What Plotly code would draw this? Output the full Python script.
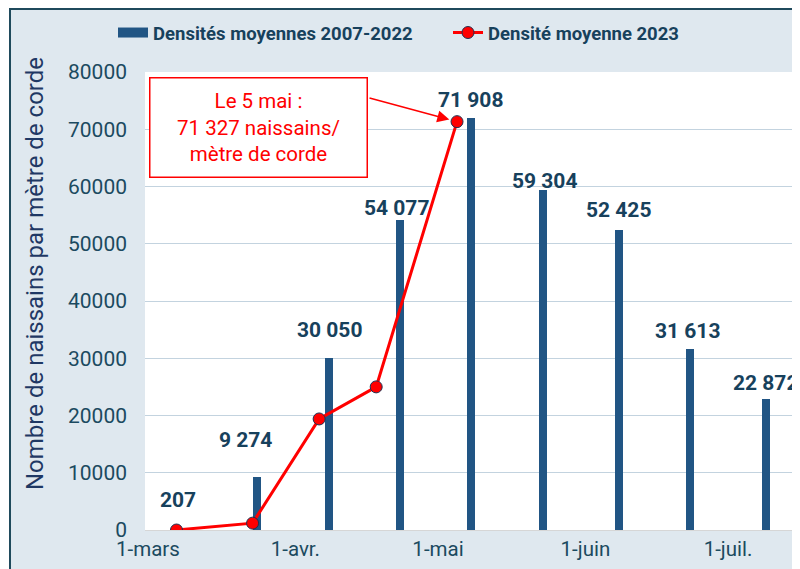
import plotly.graph_objects as go

# ---------------- data ----------------
bar_dates = ["2023-03-09", "2023-03-24", "2023-04-08", "2023-04-23", "2023-05-08",
             "2023-05-23", "2023-06-08", "2023-06-23", "2023-07-09"]
bar_values = [207, 9274, 30050, 54077, 71908, 59304, 52425, 31613, 22872]
bar_labels = ["207", "9 274", "30 050", "54 077", "71 908", "59 304", "52 425", "31 613", "22 872"]

line_dates = ["2023-03-07", "2023-03-23", "2023-04-06", "2023-04-18", "2023-05-05"]
line_values = [0, 1200, 19400, 25000, 71327]

tick_dates = ["2023-03-01", "2023-04-01", "2023-05-01", "2023-06-01", "2023-07-01"]
tick_labels = ["1-mars", "1-avr.", "1-mai", "1-juin", "1-juil."]

series_bar = "Densités moyennes 2007-2022"
series_line = "Densité moyenne 2023"
y_title = "Nombre de naissains par mètre de corde"
callout = "Le 5 mai :<br>71 327 naissains/<br>mètre de corde"

# label offsets (px) – layout only
label_dx = [-8, -12, 1, -3, -1, 2, 0, -3, -1]
label_dy = [29, 37, 28, 12, 18, 9, 20, 18, 16]

# ---------------- styles ----------------
FONT = "Roboto"
BAR_C = "#215584"
TXT_C = "#17415c"
BG = "#dfe8ef"

OFF = 8  # default body margin of the html page
W, H = 800 - OFF, 569 - OFF
# plot area in page pixels: left 145, top 72, right 796, bottom 530
L, T = 145 - OFF, 72 - OFF
R, B = W - (796 - OFF), H - (530 - OFF)
PW, PH = W - L - R, H - T - B


def px_x(p):  # page px -> paper
    return (p - OFF - L) / PW


def px_y(p):
    return (H - B - (p - OFF)) / PH


fig = go.Figure()
fig.add_trace(go.Bar(
    x=bar_dates, y=bar_values, name=series_bar, showlegend=False,
    marker=dict(color=BAR_C, line=dict(width=0)),
    width=1.7 * 86400000,
))
# legend proxy giving the wide rectangular swatch of the bar series
fig.add_trace(go.Scatter(
    x=[None], y=[None], name=series_bar, mode="lines",
    line=dict(color=BAR_C, width=10), hoverinfo="skip",
))
fig.add_trace(go.Scatter(
    x=line_dates, y=line_values, name=series_line, mode="lines+markers",
    line=dict(color="#ff0000", width=3),
    marker=dict(color="#ff0000", size=12, line=dict(color="#1f3050", width=1)),
))

annotations = []
for d, v, lab, dx, dy in zip(bar_dates, bar_values, bar_labels, label_dx, label_dy):
    annotations.append(dict(
        x=d, y=v, xref="x", yref="y", text="<b>%s</b>" % lab, showarrow=False,
        xshift=dx, yshift=dy, font=dict(family=FONT, size=21, color=TXT_C),
        xanchor="center", yanchor="middle",
    ))

# callout box
annotations.append(dict(
    x=px_x(258), y=px_y(128), xref="paper", yref="paper", text=callout,
    showarrow=False, font=dict(family=FONT, size=20.5, color="#ff0000"),
    bgcolor="white", bordercolor="#ff0000", borderwidth=1.5, borderpad=2,
    width=212, height=94, align="center", xanchor="center", yanchor="middle",
))
# callout arrow
annotations.append(dict(
    x=line_dates[-1], y=line_values[-1], xref="x", yref="y", text="",
    showarrow=True, ax=-89, ay=-24, arrowhead=2, arrowsize=1.6, arrowwidth=1.5,
    arrowcolor="#ff0000", standoff=8,
))
# y-axis title (placed as rotated text)
annotations.append(dict(
    x=px_x(35), y=px_y(274), xref="paper", yref="paper", text=y_title,
    showarrow=False, textangle=-90, xanchor="center", yanchor="middle",
    font=dict(family=FONT, size=24, color="#1f3864"),
))

shapes = [
    dict(type="rect", xref="paper", yref="paper", x0=px_x(0), x1=px_x(10), y0=px_y(575), y1=px_y(0),
         fillcolor="white", line=dict(width=0), layer="above"),
    dict(type="rect", xref="paper", yref="paper", x0=px_x(0), x1=px_x(805), y0=px_y(9), y1=px_y(0),
         fillcolor="white", line=dict(width=0), layer="above"),
    dict(type="rect", xref="paper", yref="paper", x0=px_x(10), x1=px_x(810), y0=px_y(580), y1=px_y(9),
         fillcolor="rgba(0,0,0,0)", line=dict(color="#1f4a5c", width=2), layer="above"),
]

fig.update_layout(
    width=W, height=H,
    margin=dict(l=L, r=R, t=T, b=B, autoexpand=False),
    paper_bgcolor=BG, plot_bgcolor="white",
    font=dict(family=FONT, color=TXT_C),
    bargap=0,
    showlegend=True,
    legend=dict(orientation="h", x=px_x(113), y=px_y(33), xanchor="left", yanchor="middle",
                font=dict(family=FONT, size=18.5, color=TXT_C, weight="bold"),
                bgcolor="rgba(0,0,0,0)", entrywidth=290, entrywidthmode="pixels",
                traceorder="normal"),
    xaxis=dict(type="date", range=["2023-02-28 09:00", "2023-07-15 07:00"],
               tickvals=tick_dates, ticktext=tick_labels, showgrid=False,
               showline=True, linecolor="#d6d6d6", linewidth=1, ticks="",
               tickfont=dict(family=FONT, size=20.5, color="#1b4a60"), zeroline=False,
               fixedrange=True),
    yaxis=dict(range=[0, 80000], dtick=10000, tickformat="d", showgrid=True,
               gridcolor="#c3d3df", gridwidth=1, zeroline=False, ticks="",
               ticklabelstandoff=17,
               tickfont=dict(family=FONT, size=21, color="#1b4a60")),
    annotations=annotations,
    shapes=shapes,
)

fig.write_html("out.html")
